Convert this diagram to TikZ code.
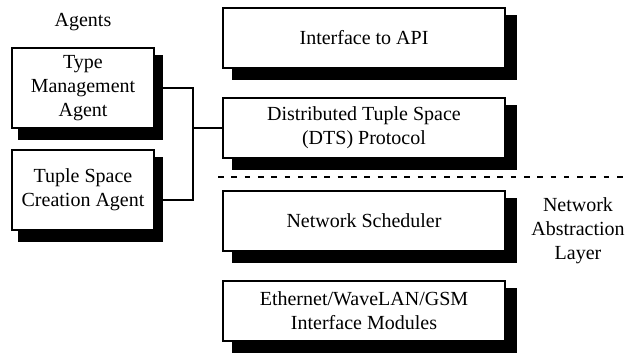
\documentclass[tikz,border=0pt]{standalone}
\usepackage{fontspec}
\setmainfont{Liberation Serif}
\usetikzlibrary{backgrounds}
\begin{document}
\begin{tikzpicture}[x=1pt,y=-1pt,
  layerbox/.style={draw, line width=2pt, fill=white, outer sep=0pt, inner sep=0pt, align=center, font=\fontsize{20}{24}\selectfont, minimum width=282pt, minimum height=60pt},
  agentbox/.style={layerbox, minimum width=142pt, minimum height=80pt},
  lbl/.style={align=center, font=\fontsize{20}{24}\selectfont, inner sep=0pt},
  wire/.style={line width=2pt},
  sepline/.style={line width=2pt, dash pattern=on 5.6pt off 7.7pt}]
\useasboundingbox (0,0) rectangle (626,354);
\node[layerbox] (api) at (364,37.5) {Interface to API};
\node[layerbox] (dts) at (364,128) {Distributed Tuple Space\\(DTS) Protocol};
\node[layerbox] (sched) at (364,220.5) {Network Scheduler};
\node[layerbox] (eth) at (364,311) {Ethernet/WaveLAN/GSM\\Interface Modules};
\node[agentbox] (type) at (83,88) {Type\\Management\\Agent};
\node[agentbox] (tuple) at (83,190) {Tuple Space\\Creation Agent};
\node[lbl, anchor=base] (agents) at (83,26) {Agents};
\node[lbl] (nal) at (578,231) {Network\\Abstraction\\Layer};
\begin{scope}[on background layer]
\foreach \n in {api,dts,sched,eth}
  \fill ([xshift=9pt,yshift=-7pt]\n.north west) rectangle ([xshift=12pt,yshift=-12pt]\n.south east);
\foreach \n in {type,tuple}
  \fill ([xshift=6pt,yshift=-7pt]\n.north west) rectangle ([xshift=9pt,yshift=-12pt]\n.south east);
\end{scope}
\coordinate (j) at (193,0);
\draw[wire] (type.east) -- (type.east -| j) |- ([yshift=-10pt]tuple.east);
\draw[wire] (dts.west) -- (dts.west -| j);
\coordinate (dl) at (218,177);
\coordinate (dr) at (626,177);
\draw[sepline] (dl) -- (dr);
\end{tikzpicture}
\end{document}
